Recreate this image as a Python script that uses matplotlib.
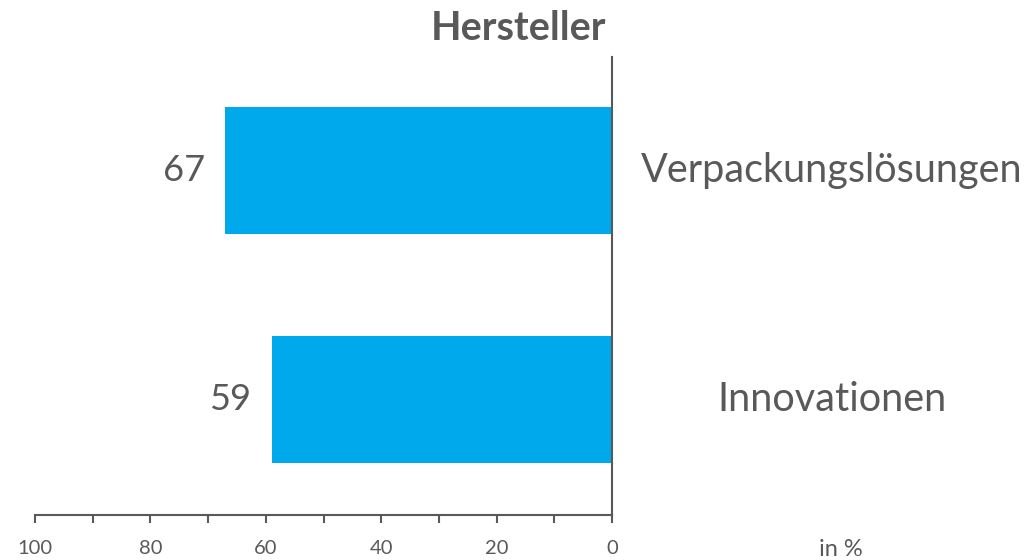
import matplotlib
matplotlib.use("Agg")
import matplotlib.pyplot as plt
from matplotlib.transforms import blended_transform_factory

categories = ["Innovationen", "Verpackungslösungen"]
values = [59, 67]
xticks = [0, 20, 40, 60, 80, 100]
minor_ticks = [10, 30, 50, 70, 90]
title = "Hersteller"
unit = "in %"

bar_color = "#00A9EC"
grey = "#595959"

plt.rcParams['font.family'] = ['Lato', 'DejaVu Sans']

fig = plt.figure(figsize=(10.28, 5.6), dpi=100)
ax = fig.add_axes([35/1028, 1-515/560, (612-35)/1028, (515-57)/560])

ypos = list(range(len(categories)))
ax.barh(ypos, values, height=0.555, color=bar_color)
ax.set_xlim(100, 0)
ax.set_ylim(-0.504, 1.496)

for s in ["top", "left"]:
    ax.spines[s].set_visible(False)
ax.spines["bottom"].set_color(grey)
ax.spines["right"].set_color(grey)
ax.spines["bottom"].set_linewidth(1.5)
ax.spines["right"].set_linewidth(1.5)
ax.yaxis.set_visible(False)
ax.set_xticks(xticks)
ax.set_xticks(minor_ticks, minor=True)
ax.tick_params(axis="x", which="both", direction="out", length=6, width=1.5,
               color=grey, labelcolor=grey, labelsize=14.5, pad=12)

for y, v in zip(ypos, values):
    ax.annotate(str(v), (v, y), xytext=(-14.5, 0), textcoords="offset points",
                ha="right", va="center", fontsize=26, color=grey)

trans = blended_transform_factory(fig.transFigure, ax.transData)
for y, c in zip(ypos, categories):
    ax.text(832/1028, y, c, transform=trans, ha="center", va="center",
            fontsize=28.5, color=grey)

fig.text(519/1028, 1-29/560, title, ha="center", va="center",
         fontsize=28.5, fontweight="bold", color=grey)
fig.text(841/1028, 1-550/560, unit, ha="center", va="center",
         fontsize=17, color=grey)

fig.savefig("out.png", dpi=100)
